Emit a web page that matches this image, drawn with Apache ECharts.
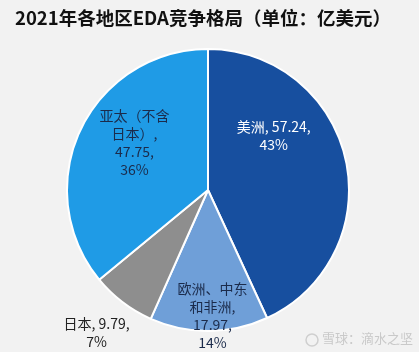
<!DOCTYPE html>
<html>
<head>
<meta charset="utf-8">
<script src="https://cdn.jsdelivr.net/npm/echarts@6/dist/echarts.min.js"></script>
<style>
html,body{margin:0;padding:0;background:#f2f2f2;}
#main{width:419px;height:352px;}
</style>
</head>
<body>
<div id="main"></div>
<script>
// 地区 / 金额(亿美元)
var regions = ['美洲', '欧洲、中东和非洲', '日本', '亚太（不含日本）'];
var amounts = [57.24, 17.97, 9.79, 47.75];
// 标签换行文本
var labelTexts = [
	'美洲, {v},\n{p}%',
	'欧洲、中东\n和非洲,\n{v},\n{p}%',
	'日本, {v},\n{p}%',
	'亚太（不含\n日本）,\n{v},\n{p}%'
];
var colors = ['#174f9f', '#6f9fd8', '#8e8e8e', '#1f9be6'];
var labelColors = ['#ffffff', '#1b2b4b', '#222222', '#1b2b4b'];
var labelOffsets = [[-6, -39], [4, 52], [-67, 84], [-7, -16]];

var pieData = [];
for (var i = 0; i < regions.length; i++) {
	pieData.push({
		name: regions[i],
		value: amounts[i],
		itemStyle: {color: colors[i]},
		label: {color: labelColors[i], offset: labelOffsets[i]}
	});
}

var myChart = echarts.init(document.getElementById('main'));
myChart.setOption({
	backgroundColor: '#f2f2f2',
	animation: false,
	title: {
		text: '2021年各地区EDA竞争格局（单位：亿美元）',
		left: 10,
		top: 4,
		textStyle: {
			fontFamily: 'Noto Sans CJK SC',
			fontWeight: 'bold',
			fontSize: 18.5,
			color: '#111111'
		}
	},
	graphic: [{
		type: 'circle',
		shape: {cx: 312, cy: 340, r: 6},
		style: {fill: 'none', stroke: '#cfcfcf', lineWidth: 1.5}
	}, {
		type: 'text',
		left: 322,
		top: 332,
		style: {
			text: '雪球：滴水之坚',
			fill: '#c9c9c9',
			font: '13px "Noto Sans CJK SC"'
		}
	}],
	series: [{
		type: 'pie',
		center: [208, 190],
		radius: 141,
		startAngle: 90,
		clockwise: true,
		percentPrecision: 0,
		itemStyle: {borderColor: '#ffffff', borderWidth: 2},
		label: {
			position: 'inside',
			fontFamily: 'Noto Sans CJK SC',
			fontSize: 14,
			lineHeight: 18,
			align: 'center',
			formatter: function (p) {
				return labelTexts[p.dataIndex].replace('{v}', p.value.toFixed(2)).replace('{p}', p.percent);
			}
		},
		labelLine: {show: false},
		data: pieData
	}]
});
</script>
</body>
</html>
